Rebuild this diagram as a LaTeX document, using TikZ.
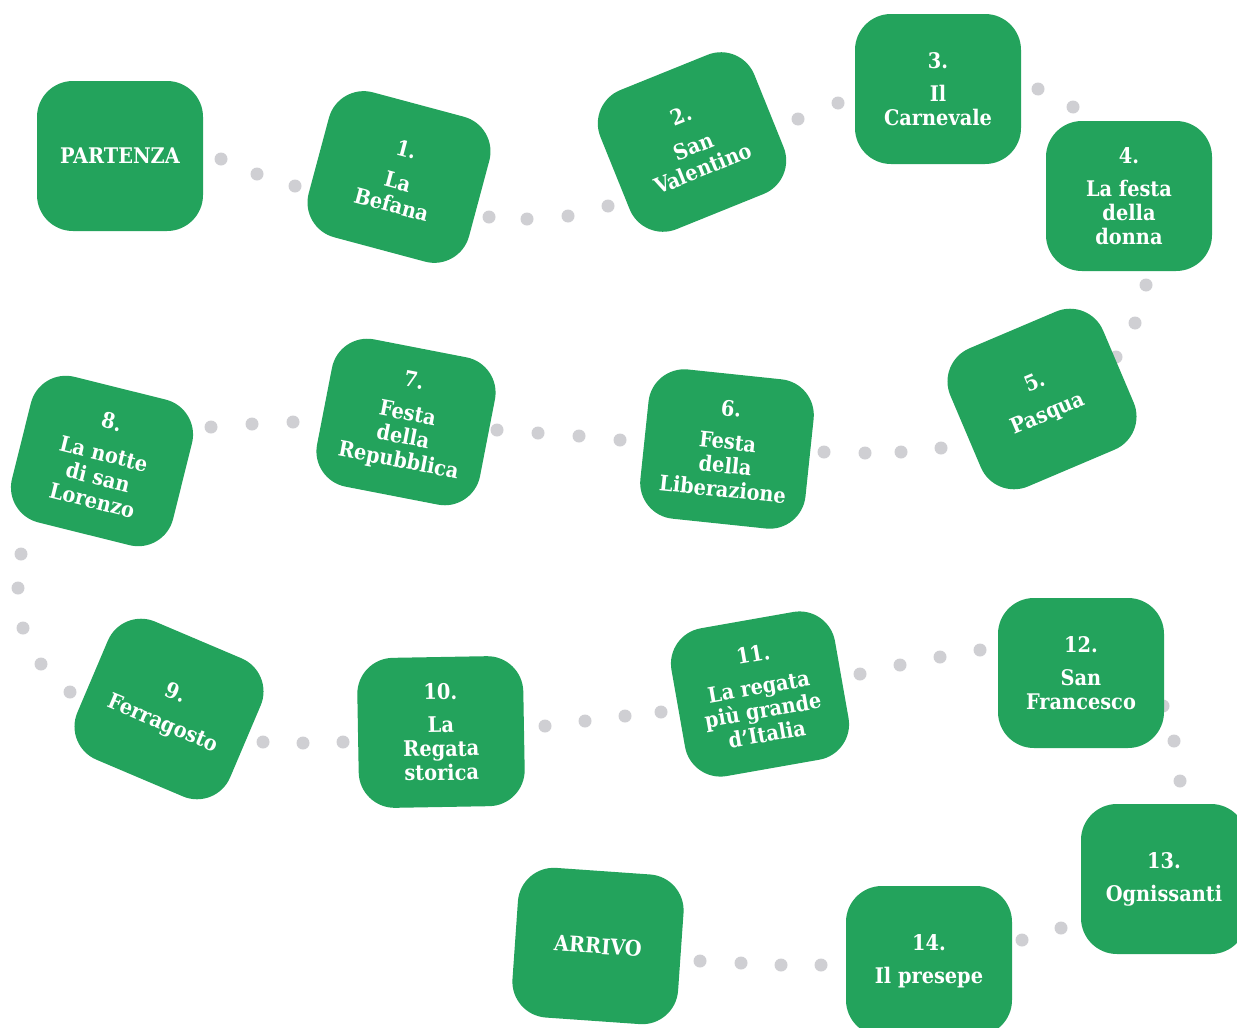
\documentclass[tikz,border=0pt]{standalone}
\usepackage{fontspec}
\setmainfont{DejaVu Serif Condensed}
\definecolor{boxgreen}{RGB}{35,163,92}
\definecolor{dotgray}{RGB}{207,207,211}
\tikzset{
  stopbox/.style={rectangle, rounded corners=36pt, fill=boxgreen, draw=none,
    minimum width=166pt, minimum height=150pt, text=white,
    font=\bfseries\fontsize{21.5}{24}\selectfont, align=center, inner sep=0pt},
  dotmark/.style={fill=dotgray, draw=none},
}
\begin{document}
\begin{tikzpicture}[x=1pt,y=-1pt]
\clip (0,0) rectangle (1237,1028);
\fill[white] (0,0) rectangle (1237,1028);
% dotted connectors (drawn beneath the boxes)
\foreach \p in {(221,159),(257,174),(295,186),
  (489,217),(527,219),(568,216),(608,206),
  (798,119),(838,103),
  (1038,89),(1073,107),
  (1146,285),(1135,323),(1116,357),
  (941,448),(901,452),(865,453),(824,452),
  (620,440),(579,436),(538,433),(497,430),
  (293,422),(252,424),(211,427),
  (21,554),(18,588),(23,628),(41,664),(70,692),
  (263,742),(303,743),(343,742),
  (545,726),(585,721),(625,716),(661,712),
  (860,674),(900,665),(940,657),(980,650),
  (1163,706),(1174,741),(1180,781),
  (1061,928),(1022,940),
  (821,965),(781,965),(741,963),(700,961)}
  \fill[dotmark] \p circle (6.5pt);
% stops
\node[stopbox] (start) at (120,156) {PARTENZA};
\node[stopbox, rotate=-15] (s1) at (399,177) {1.\\[9pt]La\\Befana};
\node[stopbox, rotate=22] (s2) at (692,142) {2.\\[9pt]San\\Valentino};
\node[stopbox] (s3) at (938,89) {3.\\[9pt]Il\\Carnevale};
\node[stopbox] (s4) at (1129,196) {4.\\[9pt]La festa\\della\\donna};
\node[stopbox, rotate=23] (s5) at (1042,399) {5.\\[9pt]Pasqua};
\node[stopbox, rotate=-6] (s6) at (727,449) {6.\\[9pt]Festa\\della\\Liberazione};
\node[stopbox, rotate=-11] (s7) at (406,422) {7.\\[9pt]Festa\\della\\Repubblica};
\node[stopbox, rotate=-14] (s8) at (102,461) {8.\\[9pt]La notte\\di san\\Lorenzo};
\node[stopbox, rotate=-23] (s9) at (169,709) {9.\\[9pt]Ferragosto};
\node[stopbox, rotate=1] (s10) at (441,732) {10.\\[9pt]La\\Regata\\storica};
\node[stopbox, rotate=10] (s11) at (760,694) {11.\\[9pt]La regata\\più grande\\d’Italia};
\node[stopbox] (s12) at (1081,673) {12.\\[9pt]San\\Francesco};
\node[stopbox] (s13) at (1164,879) {13.\\[9pt]Ognissanti};
\node[stopbox] (s14) at (929,961) {14.\\[9pt]Il presepe};
\node[stopbox, rotate=-4] (finish) at (598,946) {ARRIVO};
\end{tikzpicture}
\end{document}
